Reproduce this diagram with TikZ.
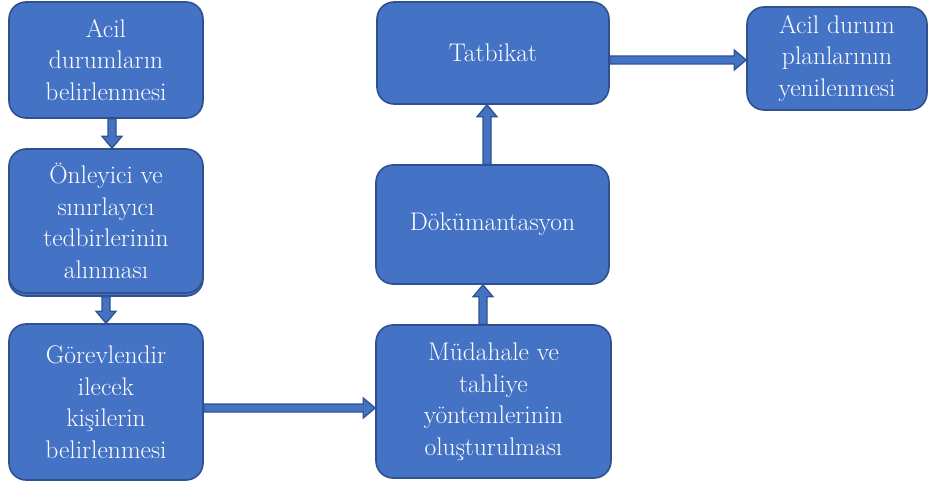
\documentclass[tikz,border=0pt]{standalone}
\usetikzlibrary{calc}
\definecolor{blu}{HTML}{4472C4}
\definecolor{bdr}{HTML}{2F528F}
\begin{document}
\begin{tikzpicture}[x=1bp,y=-1bp,
  box/.style={draw=bdr, fill=blu, line width=1.6bp, rounded corners=17bp,
    text=white, align=center, inner sep=0pt,
    font=\fontsize{25.5bp}{31.5bp}\selectfont},
  blockarrow/.style={draw=bdr, fill=blu, line width=1.3bp, line join=miter,
    to path={
      ($(\tikztostart)!4bp!90:(\tikztotarget)$)
      -- ($(\tikztotarget)!12bp!(\tikztostart)!4bp!90:(\tikztotarget)$)
      -- ($(\tikztotarget)!12bp!(\tikztostart)!10bp!90:(\tikztotarget)$)
      -- (\tikztotarget)
      -- ($(\tikztotarget)!12bp!(\tikztostart)!10bp!-90:(\tikztotarget)$)
      -- ($(\tikztotarget)!12bp!(\tikztostart)!4bp!-90:(\tikztotarget)$)
      -- ($(\tikztostart)!4bp!-90:(\tikztotarget)$)
      -- cycle}}
]
\useasboundingbox (0,0) rectangle (930,484);

\node[box, minimum width=194bp, minimum height=116bp] (A) at (106,60)
  {Acil\\durumların\\belirlenmesi};
\node[box, minimum width=194bp, minimum height=144bp] (Bs) at (106,224) {};
\node[box, minimum width=194bp, minimum height=144bp] (B) at (106,221)
  {Önleyici ve\\sınırlayıcı\\tedbirlerinin\\alınması};
\node[box, minimum width=194bp, minimum height=156bp] (C) at (106,402)
  {Görevlendir\\ilecek\\kişilerin\\belirlenmesi};
\node[box, minimum width=235bp, minimum height=153bp] (D) at (493.5,401.5)
  {Müdahale ve\\tahliye\\yöntemlerinin\\oluşturulması};
\node[box, minimum width=233bp, minimum height=119bp] (E) at (492.5,224.5)
  {Dökümantasyon};
\node[box, minimum width=232bp, minimum height=102bp] (F) at (493,53)
  {Tatbikat};
\node[box, minimum width=180bp, minimum height=103bp] (G) at (837,58.5)
  {Acil durum\\planlarının\\yenilenmesi};

\coordinate (a1) at ([xshift=6bp]A.south);
\coordinate (b1) at (a1 |- B.north);
\coordinate (b2) at (Bs.south);
\coordinate (c1) at (C.north);
\coordinate (c2) at ([yshift=-6bp]C.east);
\coordinate (d1) at (c2 -| D.west);
\coordinate (d2) at ([xshift=-10.5bp]D.north);
\coordinate (e1) at (d2 |- E.south);
\coordinate (e2) at ([xshift=-5.5bp]E.north);
\coordinate (f1) at (e2 |- F.south);
\coordinate (f2) at ([yshift=-7bp]F.east);
\coordinate (g1) at (f2 -| G.west);

\path[blockarrow] (a1) to (b1);
\path[blockarrow] (b2) to (c1);
\path[blockarrow] (c2) to (d1);
\path[blockarrow] (d2) to (e1);
\path[blockarrow] (e2) to (f1);
\path[blockarrow] (f2) to (g1);
\end{tikzpicture}
\end{document}
